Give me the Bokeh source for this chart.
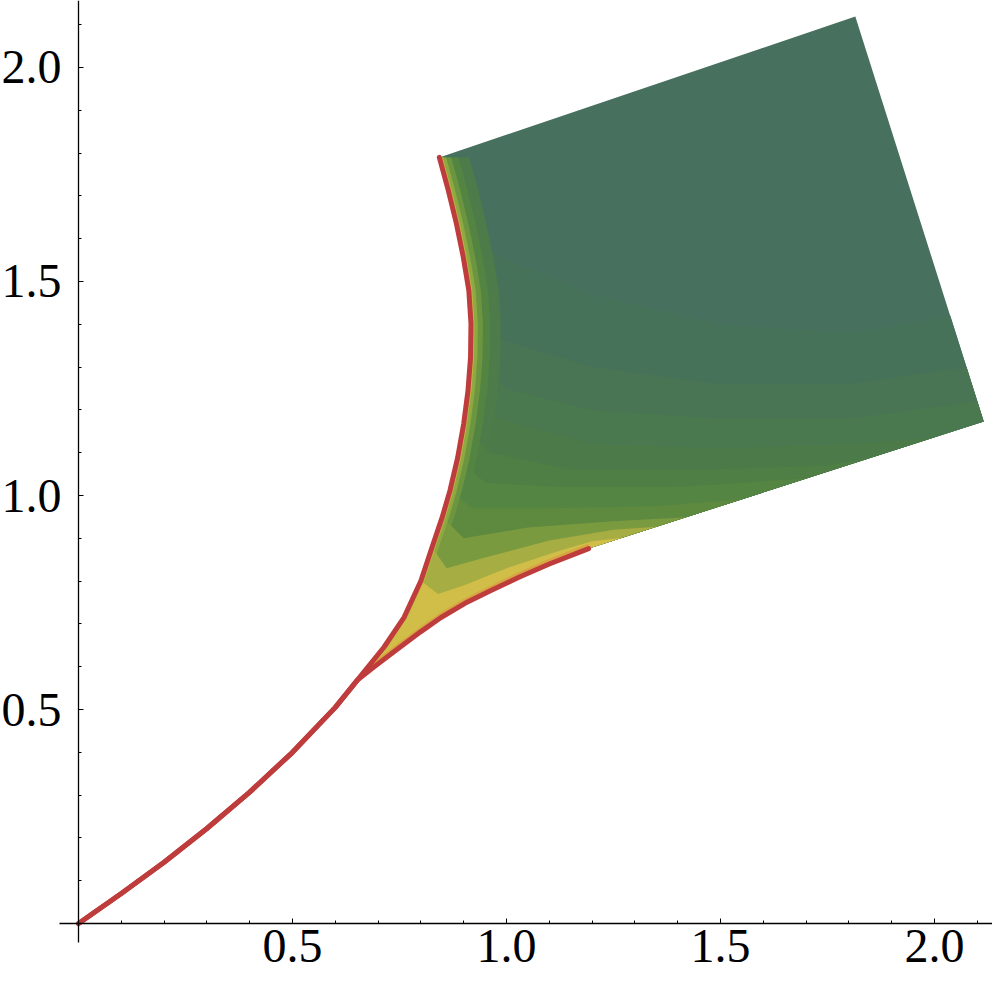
from bokeh.plotting import figure
from bokeh.models import FixedTicker, NumeralTickFormatter, Range1d
from bokeh.embed import file_html
from bokeh.resources import INLINE

# ---------------- data ----------------
# red fold curve: common part from origin to junction
common_x = [0.0, 0.1, 0.2, 0.3, 0.4, 0.5, 0.6, 0.651]
common_y = [0.0, 0.070, 0.143, 0.222, 0.307, 0.400, 0.505, 0.568]
# upper branch (junction -> top-left corner)
upper_x = [0.651, 0.714, 0.761, 0.800, 0.826, 0.850, 0.868, 0.886, 0.900, 0.910, 0.916, 0.917, 0.912, 0.899, 0.883, 0.864, 0.843]
upper_y = [0.568, 0.646, 0.716, 0.801, 0.879, 0.950, 1.012, 1.089, 1.168, 1.245, 1.323, 1.401, 1.479, 1.557, 1.635, 1.713, 1.790]
# lower branch (junction -> end on bottom edge)
lower_x = [0.651, 0.690, 0.737, 0.800, 0.847, 0.903, 0.966, 1.029, 1.100, 1.192]
lower_y = [0.568, 0.599, 0.635, 0.682, 0.715, 0.748, 0.779, 0.809, 0.840, 0.876]
# straight-edged corners of the mapped sheet
corner_top_right = (1.815, 2.119)
corner_right = (2.115, 1.173)
sheet_color = "#47705E"

# colour bands (outer -> inner): start index on upper branch, inner front, ends on right edge?
band_colors = ["#47725A", "#497555", "#4A784F", "#4C7B49", "#4F7F44", "#558543",
               "#5E8A40", "#7A9A40", "#A6AD42", "#D0BE48"]
band_start = [14, 11, 10, 9, 8, 7, 6, 5, 4, 3]
band_front_x = [
    [0.98, 1.2, 1.5, 1.8, 2.037],
    [1.0, 1.2, 1.5, 1.8, 2.075],
    [1.0, 1.2, 1.5, 1.8, 2.100],
    [0.98, 1.2, 1.5, 1.8, 2.0],
    [0.96, 1.15, 1.45, 1.75, 1.85],
    [0.95, 1.12, 1.4, 1.70],
    [0.92, 1.1, 1.35, 1.55],
    [0.90, 1.05, 1.25, 1.42],
    [0.86, 0.95, 1.1, 1.25, 1.35],
    [0.84, 0.90, 1.0, 1.12, 1.2, 1.27],
]
band_front_y = [
    [1.56, 1.47, 1.40, 1.38, 1.42],
    [1.36, 1.30, 1.26, 1.26, 1.30],
    [1.25, 1.20, 1.18, 1.18, 1.22],
    [1.18, 1.12, 1.11, 1.12, 1.136],
    [1.10, 1.06, 1.06, 1.07, 1.088],
    [1.03, 1.02, 1.02, 1.040],
    [0.97, 0.97, 0.975, 0.991],
    [0.90, 0.925, 0.94, 0.949],
    [0.83, 0.855, 0.895, 0.92, 0.927],
    [0.77, 0.79, 0.83, 0.87, 0.893, 0.901],
]
band_on_right_edge = [True, True, True, False, False, False, False, False, False, False]

# light strips along the upper fold (width, colour, first index)
strip_width = [0.07, 0.045, 0.028, 0.016, 0.008]
strip_color = ["#4D7B4A", "#548442", "#6C9540", "#8EA842", "#C0B646"]
strip_first = [4, 4, 3, 2, 1]
# orange rim along the lower fold
rim_width = [0.012]
rim_color = ["#D8A444"]

x_major = [0.5, 1.0, 1.5, 2.0]
x_minor = [0.1, 0.2, 0.3, 0.4, 0.6, 0.7, 0.8, 0.9, 1.1, 1.2, 1.3, 1.4, 1.6, 1.7, 1.8, 1.9, 2.1]
y_major = [0.5, 1.0, 1.5, 2.0]
y_minor = [0.1, 0.2, 0.3, 0.4, 0.6, 0.7, 0.8, 0.9, 1.1, 1.2, 1.3, 1.4, 1.6, 1.7, 1.8, 1.9, 2.1]

# ---------------- figure ----------------
p = figure(width=992, height=981,
           x_range=Range1d(-0.18224, 2.13551), y_range=Range1d(-0.13551, 2.15654),
           output_backend="svg", toolbar_location=None, min_border=0)
p.grid.visible = False
p.outline_line_color = None
p.background_fill_color = "white"
p.border_fill_color = "white"

# whole sheet
sheet_x = upper_x + [corner_top_right[0], corner_right[0]] + lower_x[::-1]
sheet_y = upper_y + [corner_top_right[1], corner_right[1]] + lower_y[::-1]
p.patch(sheet_x, sheet_y, fill_color=sheet_color, line_color=None)


def band(k):
    i = band_start[k]
    xs = upper_x[:i + 1] + band_front_x[k]
    ys = upper_y[:i + 1] + band_front_y[k]
    if band_on_right_edge[k]:
        xs = xs + [corner_right[0]]
        ys = ys + [corner_right[1]]
    return xs + lower_x[::-1], ys + lower_y[::-1]


def strip(k):
    i = strip_first[k]
    xs = upper_x[i:] + [x + strip_width[k] for x in upper_x[i:][::-1]]
    ys = upper_y[i:] + upper_y[i:][::-1]
    return xs, ys


order = [("b", 0), ("b", 1), ("b", 2), ("b", 3), ("s", 0), ("b", 4), ("s", 1),
         ("b", 5), ("b", 6), ("s", 2), ("b", 7), ("s", 3), ("b", 8), ("b", 9), ("s", 4)]
for kind, k in order:
    if kind == "b":
        xs, ys = band(k)
        p.patch(xs, ys, fill_color=band_colors[k], line_color=None)
    else:
        xs, ys = strip(k)
        p.patch(xs, ys, fill_color=strip_color[k], line_color=None)

for k in range(len(rim_width)):
    xs = lower_x[1:] + lower_x[1:][::-1]
    ys = lower_y[1:] + [y + rim_width[k] for y in lower_y[1:][::-1]]
    p.patch(xs, ys, fill_color=rim_color[k], line_color=None)

# red fold curves
p.multi_line([common_x + upper_x[1:], common_x + lower_x[1:]],
             [common_y + upper_y[1:], common_y + lower_y[1:]],
             line_color="#BE3C3C", line_width=5, line_join="round", line_cap="round")

# axes through the origin
xa = p.xaxis[0]
ya = p.yaxis[0]
xa.ticker = FixedTicker(ticks=x_major, minor_ticks=x_minor)
ya.ticker = FixedTicker(ticks=y_major, minor_ticks=y_minor)
for ax in (xa, ya):
    ax.fixed_location = 0
    ax.formatter = NumeralTickFormatter(format="0.0")
    ax.axis_line_color = "black"
    ax.axis_line_width = 1.3
    ax.major_tick_in = 5
    ax.major_tick_out = 0
    ax.minor_tick_in = 3
    ax.minor_tick_out = 0
    ax.major_tick_line_color = "black"
    ax.minor_tick_line_color = "black"
    ax.major_label_text_font = "Liberation Serif"
    ax.major_label_text_font_size = "48px"
    ax.major_label_text_color = "black"
    ax.bounds = (-0.045, 2.2)
xa.major_label_standoff = 6
ya.major_label_standoff = 17

open("out.html", "w").write(file_html(p, INLINE))
